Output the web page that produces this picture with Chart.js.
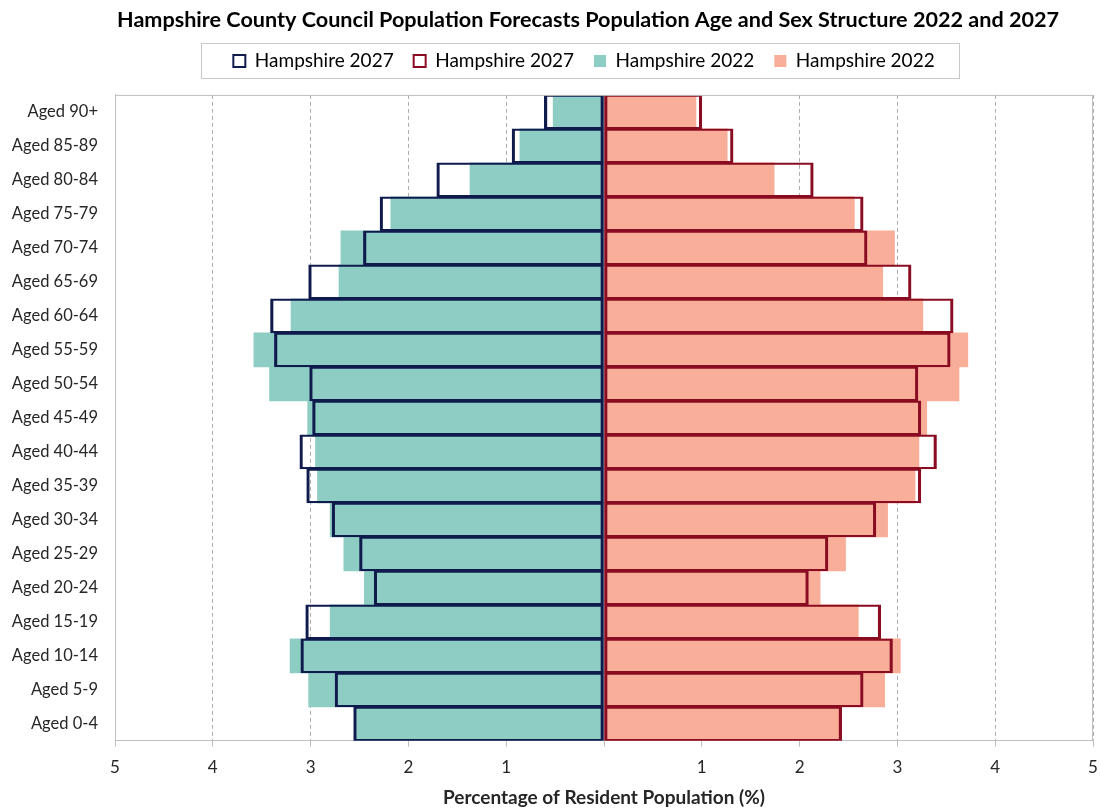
<!DOCTYPE html>
<html>
<head>
<meta charset="utf-8">
<script src="https://cdn.jsdelivr.net/npm/chart.js@4.4.1/dist/chart.umd.min.js"></script>
<style>
  html, body { margin: 0; padding: 0; background: #ffffff; }
  #wrap { width: 1101px; height: 808px; }
</style>
</head>
<body>
<div id="wrap"><canvas id="pyramid" width="1101" height="808"></canvas></div>
<script>
// Age bands, oldest at the top
const ageGroups = [
  'Aged 90+', 'Aged 85-89', 'Aged 80-84', 'Aged 75-79', 'Aged 70-74',
  'Aged 65-69', 'Aged 60-64', 'Aged 55-59', 'Aged 50-54', 'Aged 45-49',
  'Aged 40-44', 'Aged 35-39', 'Aged 30-34', 'Aged 25-29', 'Aged 20-24',
  'Aged 15-19', 'Aged 10-14', 'Aged 5-9', 'Aged 0-4'
];

// Share of resident population (%), males (left side)
const male2027 = [0.61, 0.94, 1.71, 2.29, 2.46, 3.02, 3.41, 3.37, 3.01, 2.98,
                  3.11, 3.04, 2.78, 2.50, 2.35, 3.05, 3.10, 2.75, 2.56];
const male2022 = [0.52, 0.86, 1.37, 2.18, 2.69, 2.71, 3.20, 3.58, 3.42, 3.03,
                  2.95, 2.93, 2.80, 2.66, 2.45, 2.80, 3.21, 3.02, 2.55];

// Share of resident population (%), females (right side)
const female2027 = [1.00, 1.32, 2.14, 2.65, 2.69, 3.14, 3.57, 3.54, 3.21, 3.24,
                    3.40, 3.24, 2.78, 2.29, 2.09, 2.83, 2.95, 2.65, 2.43];
const female2022 = [0.94, 1.26, 1.74, 2.56, 2.97, 2.85, 3.26, 3.72, 3.63, 3.30,
                    3.22, 3.18, 2.90, 2.47, 2.21, 2.60, 3.03, 2.87, 2.42];

// Axis extent and step (percent)
const axisMax = 5;
const axisStep = 1;

const seriesLabels = ['Hampshire 2027', 'Hampshire 2027', 'Hampshire 2022', 'Hampshire 2022'];

const NAVY = '#0f1a4d';
const CRIMSON = '#8a0c22';
const TEAL = '#8ecdc4';
const SALMON = '#f8ae99';
const FRAME = '#bfbfbf';
const GRID = 'rgba(105,105,105,0.55)';
const FONT = 'Lato, "Open Sans", sans-serif';

const toLeft = arr => arr.map(v => -v);

const outlineWidth = { top: 1.5, bottom: 1.5, left: 2.5, right: 2.5 };

// Title and legend sit a little left of the plot centre; the legend row
// floats just above the plot inside its own framed box.
const headerPlugin = {
  id: 'header',
  afterLayout(chart) {
    const area = chart.chartArea;
    const mid = (area.left + area.right) / 2;
    const t = chart.titleBlock;
    if (t) {
      const dx = (mid - 16) - (t.left + t.right) / 2;
      t.left += dx; t.right += dx;
    }
    const lg = chart.legend;
    if (lg) {
      const dx = (mid - 20) - (lg.left + lg.right) / 2;
      lg.left += dx; lg.right += dx;
      const pad = lg.options.labels.padding;
      const itemH = lg.options.labels.font.size;
      const rowMid = lg.top + pad + itemH / 2;
      const dy = (area.top - 34) - rowMid;
      lg.top += dy; lg.bottom += dy;
    }
  },
  afterDraw(chart) {
    const ctx = chart.ctx;
    const a = chart.chartArea;
    ctx.save();
    // top and right edges of the plot frame
    ctx.strokeStyle = FRAME;
    ctx.lineWidth = 1;
    ctx.beginPath();
    ctx.moveTo(a.left, a.top + 0.5);
    ctx.lineTo(a.right - 0.5, a.top + 0.5);
    ctx.lineTo(a.right - 0.5, a.bottom);
    ctx.stroke();

    // frame round the legend row
    const boxes = chart.legend && chart.legend.legendHitBoxes;
    if (boxes && boxes.length) {
      let l = Infinity, r = -Infinity, t = Infinity, b = -Infinity;
      boxes.forEach(h => {
        l = Math.min(l, h.left); r = Math.max(r, h.left + h.width);
        t = Math.min(t, h.top); b = Math.max(b, h.top + h.height);
      });
      const cy = (t + b) / 2;
      ctx.strokeStyle = '#c8c8c8';
      ctx.strokeRect(Math.round(l - 32) + 0.5, Math.round(cy - 18) + 0.5,
                     Math.round(r - l + 57), 35);
    }
    ctx.restore();
  }
};

new Chart(document.getElementById('pyramid'), {
  type: 'bar',
  data: {
    labels: ageGroups,
    datasets: [
      {
        label: seriesLabels[0],
        data: toLeft(male2027),
        backgroundColor: 'rgba(255,255,255,0)',
        borderColor: NAVY,
        borderWidth: outlineWidth,
        borderSkipped: false,
        grouped: false,
        barPercentage: 1,
        categoryPercentage: 1
      },
      {
        label: seriesLabels[1],
        data: female2027,
        backgroundColor: 'rgba(255,255,255,0)',
        borderColor: CRIMSON,
        borderWidth: outlineWidth,
        borderSkipped: false,
        grouped: false,
        barPercentage: 1,
        categoryPercentage: 1
      },
      {
        label: seriesLabels[2],
        data: toLeft(male2022),
        backgroundColor: TEAL,
        borderWidth: 0,
        grouped: false,
        barPercentage: 1,
        categoryPercentage: 1
      },
      {
        label: seriesLabels[3],
        data: female2022,
        backgroundColor: SALMON,
        borderWidth: 0,
        grouped: false,
        barPercentage: 1,
        categoryPercentage: 1
      }
    ]
  },
  options: {
    indexAxis: 'y',
    responsive: false,
    animation: false,
    devicePixelRatio: 1,
    layout: { padding: { left: 0, right: 8, top: 0, bottom: 0 } },
    plugins: {
      title: {
        display: true,
        text: 'Hampshire County Council Population Forecasts Population Age and Sex Structure 2022 and 2027',
        color: '#000000',
        font: { family: FONT, size: 21.6, weight: 'bold' },
        padding: { top: 7, bottom: 13 }
      },
      legend: {
        display: true,
        position: 'top',
        labels: {
          color: '#000000',
          font: { family: FONT, size: 19 },
          boxWidth: 12,
          boxHeight: 12,
          padding: 20
        }
      },
      tooltip: { enabled: false }
    },
    scales: {
      x: {
        type: 'linear',
        min: -axisMax,
        max: axisMax,
        z: 1,
        ticks: {
          stepSize: axisStep,
          color: '#262626',
          font: { family: FONT, size: 17 },
          padding: 10.5,
          callback: v => (v === 0 ? '' : String(Math.abs(v)))
        },
        grid: {
          color: ctx => (ctx.tick && ctx.tick.value === 0 ? 'rgba(0,0,0,0)' : GRID),
          lineWidth: 1,
          tickLength: 6,
          tickColor: FRAME,
          tickBorderDash: []
        },
        border: { display: true, color: FRAME, width: 1, dash: [4, 3] },
        title: {
          display: true,
          text: 'Percentage of Resident Population (%)',
          color: '#262626',
          font: { family: FONT, size: 19, weight: 'bold' },
          padding: { top: -2, bottom: -1 }
        },
        afterFit: scale => { scale.paddingLeft = 0; scale.paddingRight = 0; }
      },
      y: {
        type: 'category',
        offset: true,
        grid: { display: false },
        border: { display: true, color: FRAME, width: 1 },
        ticks: {
          color: '#262626',
          font: { family: FONT, size: 16.5 },
          padding: 9,
          autoSkip: false
        },
        afterFit: scale => { scale.width = 115; }
      }
    }
  },
  plugins: [headerPlugin]
});
</script>
</body>
</html>
